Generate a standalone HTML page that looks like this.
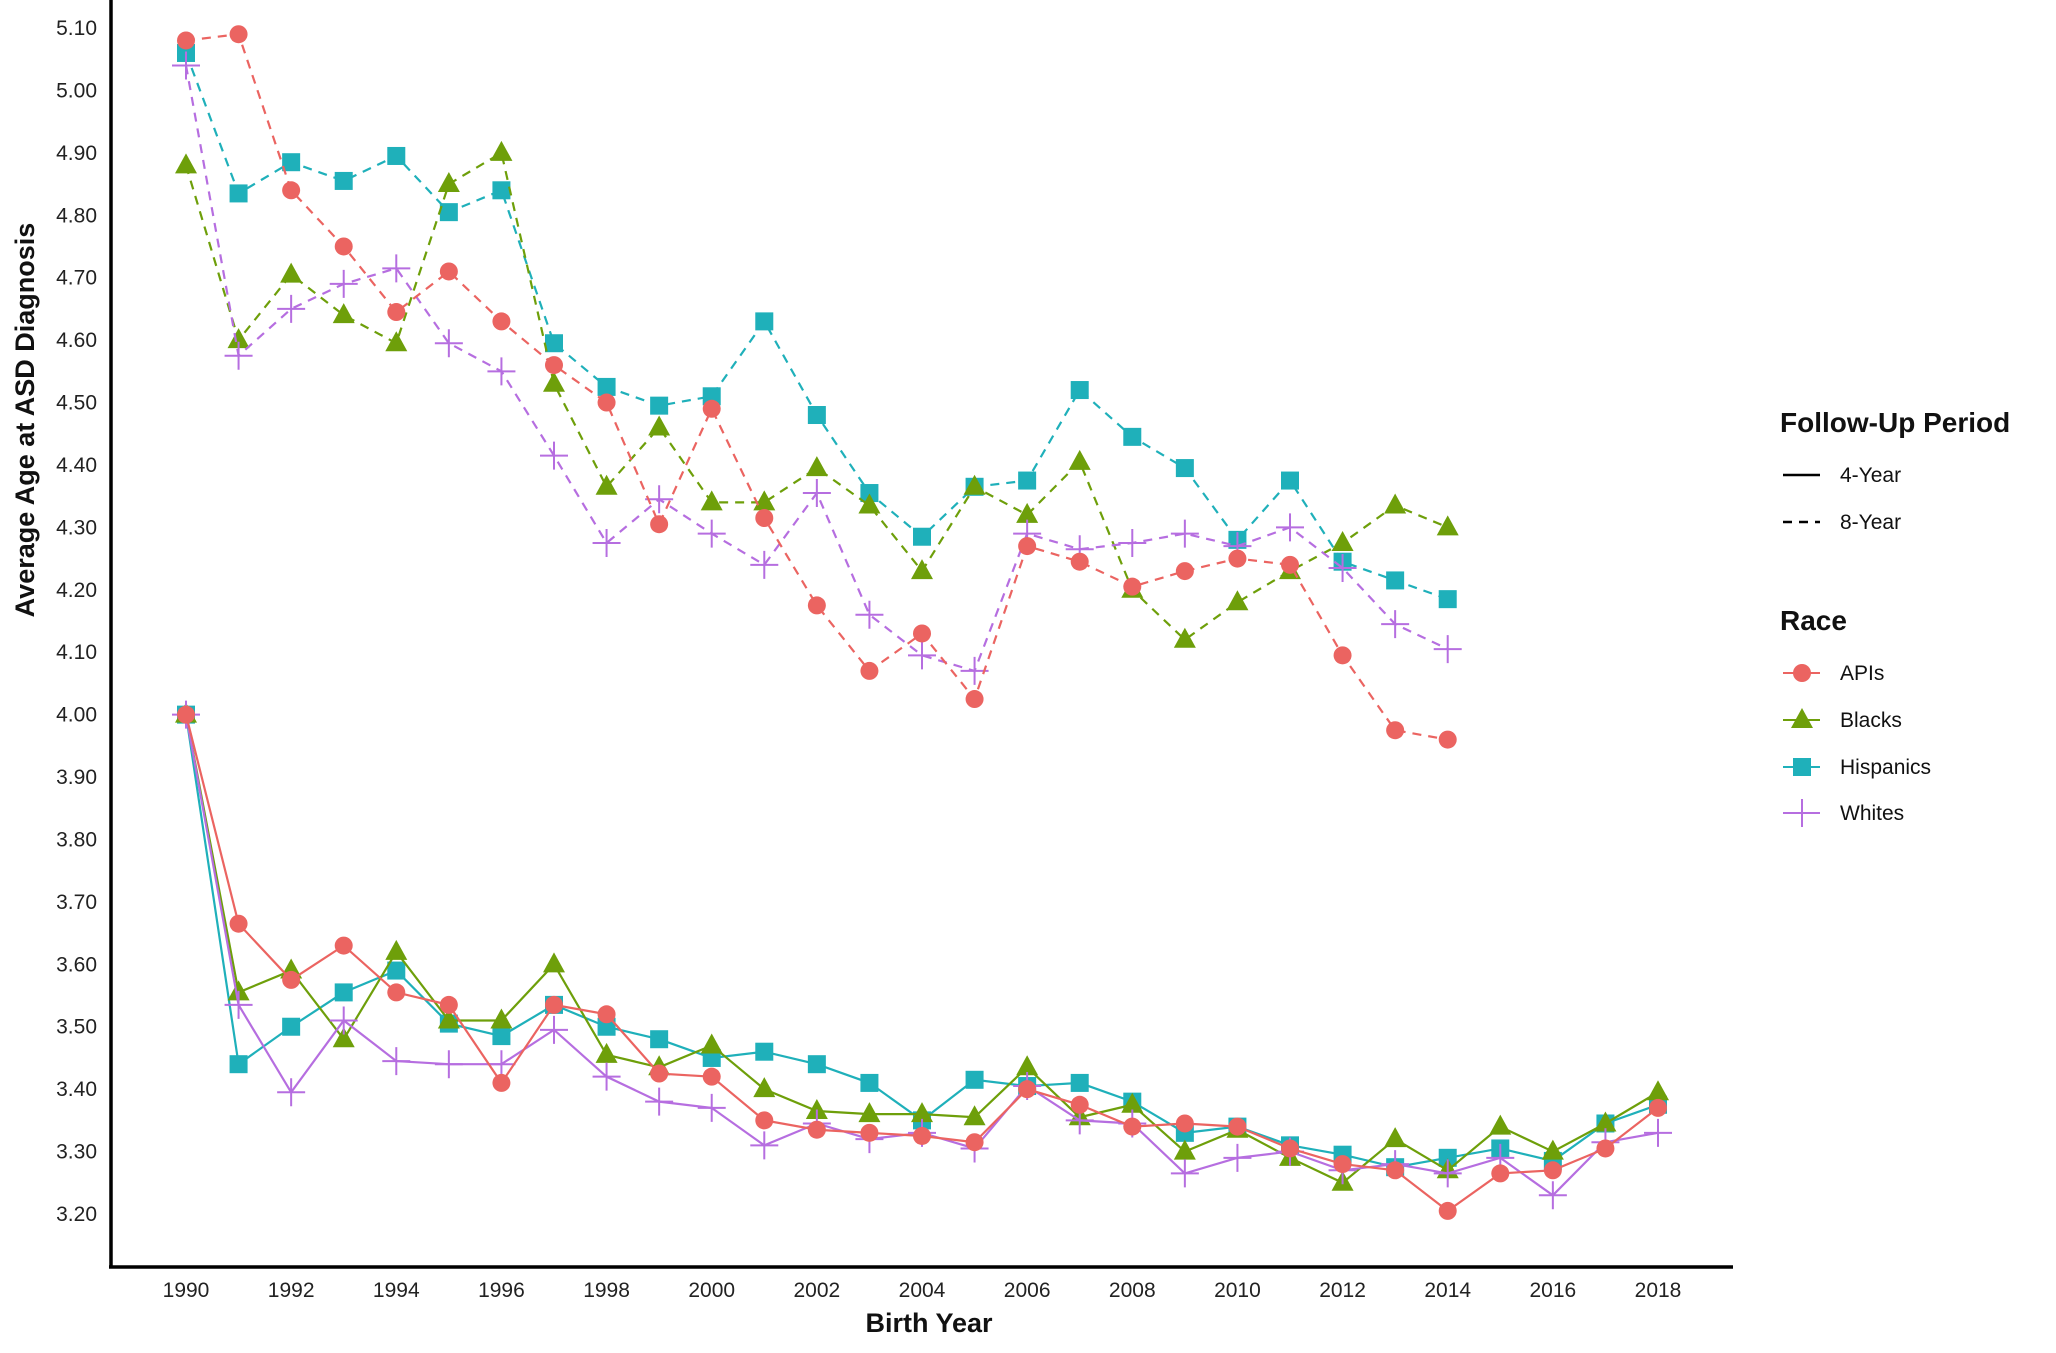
<!DOCTYPE html>
<html><head><meta charset="utf-8">
<style>
html,body{margin:0;padding:0;background:#fff;}
svg{display:block;font-family:"Liberation Sans",sans-serif;}
</style></head>
<body>
<svg id="chart" width="2056" height="1353" viewBox="0 0 2056 1353">
  <g id="grid"></g>
  <g id="series"></g>
  <g id="legend"></g>
</svg>
<script>
const years8 = [1990,1991,1992,1993,1994,1995,1996,1997,1998,1999,2000,2001,2002,2003,2004,2005,2006,2007,2008,2009,2010,2011,2012,2013,2014];
const years4 = [1990,1991,1992,1993,1994,1995,1996,1997,1998,1999,2000,2001,2002,2003,2004,2005,2006,2007,2008,2009,2010,2011,2012,2013,2014,2015,2016,2017,2018];
const apis8 = [5.08,5.09,4.84,4.75,4.645,4.71,4.63,4.56,4.50,4.305,4.49,4.315,4.175,4.07,4.13,4.025,4.27,4.245,4.205,4.23,4.25,4.24,4.095,3.975,3.96];
const blacks8 = [4.88,4.60,4.705,4.64,4.595,4.85,4.90,4.53,4.365,4.46,4.34,4.34,4.395,4.335,4.23,4.365,4.32,4.405,4.20,4.12,4.18,4.23,4.275,4.335,4.30];
const hisp8 = [5.06,4.835,4.885,4.855,4.895,4.805,4.84,4.595,4.525,4.495,4.51,4.63,4.48,4.355,4.285,4.365,4.375,4.52,4.445,4.395,4.28,4.375,4.245,4.215,4.185];
const whites8 = [5.04,4.575,4.65,4.69,4.715,4.595,4.55,4.415,4.275,4.345,4.29,4.24,4.355,4.16,4.095,4.07,4.29,4.265,4.275,4.29,4.27,4.30,4.235,4.145,4.105];
const apis4 = [4.00,3.665,3.575,3.63,3.555,3.535,3.41,3.535,3.52,3.425,3.42,3.35,3.335,3.33,3.325,3.315,3.40,3.375,3.34,3.345,3.34,3.305,3.28,3.27,3.205,3.265,3.27,3.305,3.37];
const blacks4 = [4.00,3.555,3.59,3.48,3.62,3.51,3.51,3.60,3.455,3.435,3.47,3.40,3.365,3.36,3.36,3.355,3.435,3.355,3.375,3.30,3.335,3.29,3.25,3.32,3.27,3.34,3.30,3.345,3.395];
const hisp4 = [4.00,3.44,3.50,3.555,3.59,3.505,3.485,3.535,3.50,3.48,3.45,3.46,3.44,3.41,3.35,3.415,3.405,3.41,3.38,3.33,3.34,3.31,3.295,3.275,3.29,3.305,3.285,3.345,3.375];
const whites4 = [4.00,3.535,3.395,3.51,3.445,3.44,3.44,3.495,3.42,3.38,3.37,3.31,3.345,3.32,3.33,3.305,3.405,3.35,3.345,3.265,3.29,3.30,3.27,3.28,3.265,3.29,3.23,3.315,3.33];
const yTicks = [3.2,3.3,3.4,3.5,3.6,3.7,3.8,3.9,4.0,4.1,4.2,4.3,4.4,4.5,4.6,4.7,4.8,4.9,5.0,5.1];
const xTicks = [1990,1992,1994,1996,1998,2000,2002,2004,2006,2008,2010,2012,2014,2016,2018];

const NS="http://www.w3.org/2000/svg";
const X0=186, X1=1658, Y0=1214, Y1=28;
function xs(yr){return X0+(yr-1990)*(X1-X0)/28;}
function ys(v){return Y0-(v-3.2)*(Y0-Y1)/1.9;}
function mk(tag,attrs,parent){const e=document.createElementNS(NS,tag);for(const k in attrs)e.setAttribute(k,attrs[k]);parent.appendChild(e);return e;}

const grid=document.getElementById('grid');
const axY=mk('line',{x1:111,y1:0,x2:111,y2:1268,stroke:'#000','stroke-width':3.5},grid);


const axX=mk('line',{x1:109,y1:1267,x2:1733,y2:1267,stroke:'#000','stroke-width':3.5},grid);


yTicks.forEach(v=>{
  const t=mk('text',{x:97,y:ys(v)+7,'text-anchor':'end','font-size':21,fill:'#222'},grid);
  t.textContent=v.toFixed(2);
  
  
});
xTicks.forEach(yr=>{
  const t=mk('text',{x:xs(yr),y:1297,'text-anchor':'middle','font-size':21,fill:'#222'},grid);
  t.textContent=yr;
  
  
});
const xt=mk('text',{x:929,y:1332,'text-anchor':'middle','font-size':27,'font-weight':'bold',fill:'#111'},grid);
xt.textContent='Birth Year';


const yt=mk('text',{x:0,y:0,'text-anchor':'middle','font-size':27,'font-weight':'bold',fill:'#111',transform:'translate(34,420) rotate(-90)'},grid);
yt.textContent='Average Age at ASD Diagnosis';



const COL={apis:'#EB6461',blacks:'#6E9F0A',hisp:'#1FB0BA',whites:'#B66EE0'};
function marker(kind,cx,cy,parent){
  let e;
  if(kind==='apis') e=mk('circle',{cx:cx,cy:cy,r:9,fill:COL.apis},parent);
  else if(kind==='blacks') e=mk('polygon',{points:`${cx},${cy-12} ${cx-11},${cy+8} ${cx+11},${cy+8}`,fill:COL.blacks},parent);
  else if(kind==='hisp') e=mk('rect',{x:cx-9,y:cy-9,width:18,height:18,fill:COL.hisp},parent);
  else e=mk('path',{d:`M${cx-14},${cy}H${cx+14}M${cx},${cy-14}V${cy+14}`,stroke:COL.whites,'stroke-width':2,fill:'none'},parent);
  return e;
}
const ser=document.getElementById('series');
function drawSeries(kind,yrs,vals,dashed,name){
  const g=mk('g',{},ser);
  
  
  const pts=vals.map((v,i)=>xs(yrs[i])+','+ys(v)).join(' ');
  const l=mk('polyline',{points:pts,fill:'none',stroke:COL[kind],'stroke-width':2.2,'stroke-dasharray':dashed?'9,7':'none'},g);
  
  
  vals.forEach((v,i)=>{
    const m=marker(kind,xs(yrs[i]),ys(v),g);
    
    
  });
}
drawSeries('hisp',years8,hisp8,true,'hispanics-8-year');
drawSeries('blacks',years8,blacks8,true,'blacks-8-year');
drawSeries('whites',years8,whites8,true,'whites-8-year');
drawSeries('apis',years8,apis8,true,'apis-8-year');
drawSeries('hisp',years4,hisp4,false,'hispanics-4-year');
drawSeries('blacks',years4,blacks4,false,'blacks-4-year');
drawSeries('whites',years4,whites4,false,'whites-4-year');
drawSeries('apis',years4,apis4,false,'apis-4-year');

const lg=document.getElementById('legend');
function txt(s,x,y,size,bold,name){
  const t=mk('text',{x:x,y:y,'font-size':size,'font-weight':bold?'bold':'normal',fill:'#111'},lg);
  t.textContent=s;
  
  
}
txt('Follow-Up Period',1780,432,28,true,'legend-title-period');
txt('Race',1780,630,28,true,'legend-title-race');
const l4=mk('line',{x1:1783,y1:475,x2:1820,y2:475,stroke:'#000','stroke-width':2.5},lg);


txt('4-Year',1840,482,21,false,'legend-label-4-year');
const l8=mk('line',{x1:1783,y1:522,x2:1820,y2:522,stroke:'#000','stroke-width':2.5,'stroke-dasharray':'9,7'},lg);


txt('8-Year',1840,529,21,false,'legend-label-8-year');
[['apis','APIs',673],['blacks','Blacks',720],['hisp','Hispanics',767],['whites','Whites',813]].forEach(([k,s,y])=>{
  const ln=mk('line',{x1:1783,y1:y,x2:1820,y2:y,stroke:COL[k],'stroke-width':2},lg);
  
  
  const m=marker(k,1802,y,lg);
  
  
  txt(s,1840,y+7,21,false,'legend-entry');
});
</script>
</body></html>
